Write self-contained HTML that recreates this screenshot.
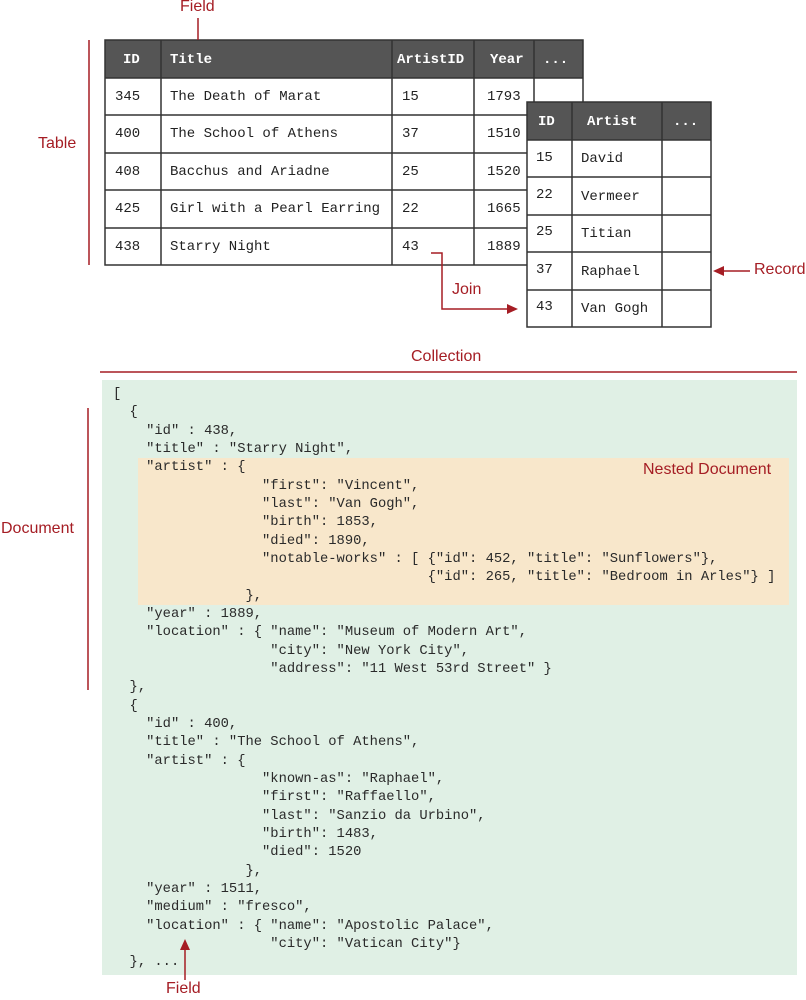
<!DOCTYPE html>
<html><head><meta charset="utf-8"><style>
html,body{margin:0;padding:0;background:#fff;}
body{width:806px;height:1000px;position:relative;overflow:hidden;font-family:"Liberation Sans",sans-serif;}
.lbl{position:absolute;color:#a51d24;font-size:16px;font-family:"Liberation Sans",sans-serif;white-space:nowrap;}
pre{position:absolute;margin:0;left:113px;top:386px;font-family:"Liberation Mono",monospace;font-size:13.8px;line-height:18.33px;color:#2a2a2a;}
svg{position:absolute;left:0;top:0;}
</style></head><body>
<div style="position:absolute;left:102px;top:380px;width:695px;height:595px;background:#e0f0e5;"></div>
<div style="position:absolute;left:138px;top:458px;width:651px;height:147px;background:#f8e7cb;"></div>
<svg width="806" height="1000" viewBox="0 0 806 1000">
<g font-family="Liberation Mono, monospace" font-size="14" fill="#222" dominant-baseline="central">
<rect x="105" y="40" width="478" height="38" fill="#555"/>
<rect x="105" y="78" width="478" height="187" fill="#fff"/>
<g stroke="#333" stroke-width="1.5" fill="none">
<rect x="105" y="40" width="478" height="225"/>
<line x1="161" y1="40" x2="161" y2="265"/><line x1="392" y1="40" x2="392" y2="265"/>
<line x1="474" y1="40" x2="474" y2="265"/><line x1="534" y1="40" x2="534" y2="265"/>
<line x1="105" y1="78" x2="583" y2="78"/><line x1="105" y1="115" x2="583" y2="115"/>
<line x1="105" y1="153" x2="583" y2="153"/><line x1="105" y1="190" x2="583" y2="190"/>
<line x1="105" y1="228" x2="583" y2="228"/>
</g>
<g fill="#fff" font-weight="bold"><text x="123" y="60">ID</text><text x="170" y="60">Title</text><text x="397" y="60">ArtistID</text><text x="490" y="60">Year</text><text x="543" y="60">...</text></g>
<text x="115" y="97">345</text><text x="170" y="97">The Death of Marat</text><text x="402" y="97">15</text><text x="487" y="97">1793</text>
<text x="115" y="134">400</text><text x="170" y="134">The School of Athens</text><text x="402" y="134">37</text><text x="487" y="134">1510</text>
<text x="115" y="172">408</text><text x="170" y="172">Bacchus and Ariadne</text><text x="402" y="172">25</text><text x="487" y="172">1520</text>
<text x="115" y="209">425</text><text x="170" y="209">Girl with a Pearl Earring</text><text x="402" y="209">22</text><text x="487" y="209">1665</text>
<text x="115" y="247">438</text><text x="170" y="247">Starry Night</text><text x="402" y="247">43</text><text x="487" y="247">1889</text>
<rect x="527" y="102" width="184" height="38" fill="#555"/>
<rect x="527" y="140" width="184" height="187" fill="#fff"/>
<g stroke="#333" stroke-width="1.5" fill="none">
<rect x="527" y="102" width="184" height="225"/>
<line x1="572" y1="102" x2="572" y2="327"/><line x1="662" y1="102" x2="662" y2="327"/>
<line x1="527" y1="140" x2="711" y2="140"/><line x1="527" y1="177" x2="711" y2="177"/>
<line x1="527" y1="215" x2="711" y2="215"/><line x1="527" y1="252" x2="711" y2="252"/>
<line x1="527" y1="290" x2="711" y2="290"/>
</g>
<g fill="#fff" font-weight="bold"><text x="538" y="122">ID</text><text x="587" y="122">Artist</text><text x="673" y="122">...</text></g>
<text x="536" y="158">15</text><text x="581" y="159">David</text>
<text x="536" y="195">22</text><text x="581" y="197">Vermeer</text>
<text x="536" y="232">25</text><text x="581" y="234">Titian</text>
<text x="536" y="270">37</text><text x="581" y="272">Raphael</text>
<text x="536" y="307">43</text><text x="581" y="309">Van Gogh</text>
</g>
<g stroke="#a51d24" stroke-width="1.5" fill="none">
<line x1="198" y1="18" x2="198" y2="40"/>
<line x1="89" y1="40" x2="89" y2="265"/>
<polyline points="431,253 442,253 442,309 509,309"/>
<line x1="750" y1="271" x2="722" y2="271"/>
<line x1="100" y1="372" x2="797" y2="372"/>
<line x1="88" y1="408" x2="88" y2="690"/>
<line x1="185" y1="980" x2="185" y2="948"/>
</g>
<g fill="#a51d24">
<polygon points="518,309 507,304 507,314"/>
<polygon points="713,271 724,266 724,276"/>
<polygon points="185,939 180,950 190,950"/>
</g>
</svg>
<div class="lbl" style="left:180px;top:-2px;">Field</div>
<div class="lbl" style="left:38px;top:135px;">Table</div>
<div class="lbl" style="left:452px;top:281px;">Join</div>
<div class="lbl" style="left:754px;top:261px;">Record</div>
<div class="lbl" style="left:411px;top:348px;">Collection</div>
<div class="lbl" style="left:1px;top:520px;">Document</div>
<div class="lbl" style="left:643px;top:461px;">Nested Document</div>
<div class="lbl" style="left:166px;top:980px;">Field</div>
<pre>[
  {
    "id" : 438,
    "title" : "Starry Night",
    "artist" : {
                  "first": "Vincent",
                  "last": "Van Gogh",
                  "birth": 1853,
                  "died": 1890,
                  "notable-works" : [ {"id": 452, "title": "Sunflowers"},
                                      {"id": 265, "title": "Bedroom in Arles"} ]
                },
    "year" : 1889,
    "location" : { "name": "Museum of Modern Art",
                   "city": "New York City",
                   "address": "11 West 53rd Street" }
  },
  {
    "id" : 400,
    "title" : "The School of Athens",
    "artist" : {
                  "known-as": "Raphael",
                  "first": "Raffaello",
                  "last": "Sanzio da Urbino",
                  "birth": 1483,
                  "died": 1520
                },
    "year" : 1511,
    "medium" : "fresco",
    "location" : { "name": "Apostolic Palace",
                   "city": "Vatican City"}
  }, ...</pre>
</body></html>
